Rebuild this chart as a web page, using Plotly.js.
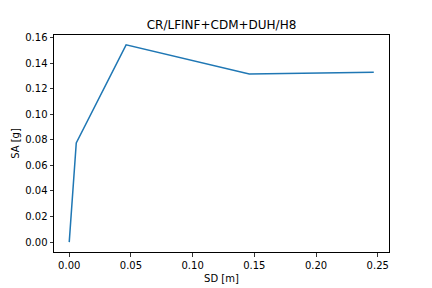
<!DOCTYPE html>
<html><head><meta charset="utf-8">
<script src="https://cdn.plot.ly/plotly-3.0.1.min.js"></script>
<style>html,body{margin:0;padding:0;background:#fff}</style>
</head><body><div id="chart" style="width:432px;height:288px"></div>
<script>
const sd = [0.0, 0.0057, 0.0461, 0.1459, 0.2468];
const sa = [0.0, 0.0776, 0.1543, 0.1316, 0.1329];
const xTicks = [0, 0.05, 0.10, 0.15, 0.20, 0.25];
const xTickText = ['0.00','0.05','0.10','0.15','0.20','0.25'];
const yTicks = [0, 0.02, 0.04, 0.06, 0.08, 0.10, 0.12, 0.14, 0.16];
const yTickText = ['0.00','0.02','0.04','0.06','0.08','0.10','0.12','0.14','0.16'];

const font = {family: 'DejaVu Sans', size: 10, color: '#000'};
const axisCommon = {
  showgrid: false, zeroline: false, showline: true, linecolor: '#000', linewidth: 1,
  mirror: true, ticks: 'outside', ticklen: 3.5, tickwidth: 0.8, tickcolor: '#000',
  tickfont: font, tickmode: 'array'
};
Plotly.newPlot('chart', [{
  x: sd, y: sa, type: 'scatter', mode: 'lines',
  line: {color: '#1f77b4', width: 1.5}, hoverinfo: 'skip'
}], {
  width: 432, height: 288,
  margin: {l: 54, r: 43, t: 35, b: 36},
  paper_bgcolor: '#fff', plot_bgcolor: '#fff',
  showlegend: false,
  font: font,
  title: {text: 'CR/LFINF+CDM+DUH/H8', font: {family: 'DejaVu Sans', size: 12, color: '#000'},
          x: 0.5, xanchor: 'center', xref: 'paper', y: 1, yref: 'paper', yanchor: 'bottom', pad: {b: 6}},
  xaxis: Object.assign({}, axisCommon, {
    range: [-0.01234, 0.25914], tickvals: xTicks, ticktext: xTickText,
    title: {text: 'SD [m]', font: font, standoff: 5}
  }),
  yaxis: Object.assign({}, axisCommon, {
    range: [-0.00772, 0.16202], tickvals: yTicks, ticktext: yTickText,
    title: {text: 'SA [g]', font: font, standoff: 3}
  })
}, {staticPlot: true});
</script></body></html>
